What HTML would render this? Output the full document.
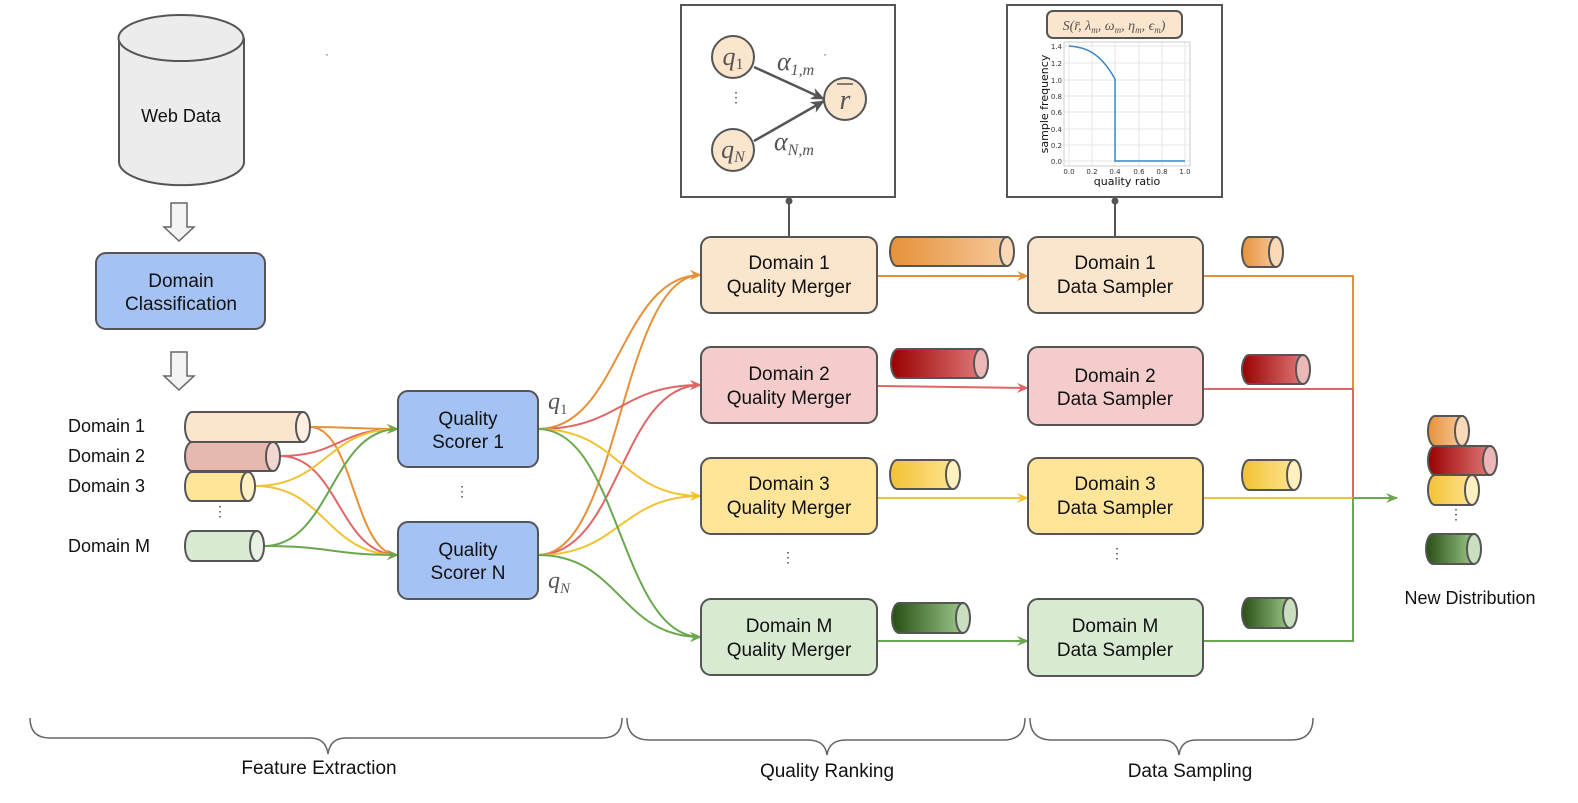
<!DOCTYPE html>
<html><head><meta charset="utf-8"><style>
html,body{margin:0;padding:0;background:#fff;}
svg{display:block;font-family:"Liberation Sans",Arial,sans-serif;}
.m{font-family:"Liberation Serif",serif;font-style:italic;fill:#555;}
</style></head><body>
<svg width="1578" height="803" viewBox="0 0 1578 803" xmlns="http://www.w3.org/2000/svg">
<defs>
<marker id="ao" markerWidth="12" markerHeight="10" refX="11" refY="5" orient="auto" markerUnits="userSpaceOnUse"><path d="M0,0 L12,5 L0,10 L4,5 Z" fill="#e69138"/></marker>
<marker id="ar" markerWidth="12" markerHeight="10" refX="11" refY="5" orient="auto" markerUnits="userSpaceOnUse"><path d="M0,0 L12,5 L0,10 L4,5 Z" fill="#e06666"/></marker>
<marker id="ay" markerWidth="12" markerHeight="10" refX="11" refY="5" orient="auto" markerUnits="userSpaceOnUse"><path d="M0,0 L12,5 L0,10 L4,5 Z" fill="#f1c232"/></marker>
<marker id="ag" markerWidth="12" markerHeight="10" refX="11" refY="5" orient="auto" markerUnits="userSpaceOnUse"><path d="M0,0 L12,5 L0,10 L4,5 Z" fill="#6aa84f"/></marker>
<marker id="ak" markerWidth="14" markerHeight="12" refX="13" refY="6" orient="auto" markerUnits="userSpaceOnUse"><path d="M0,0 L14,6 L0,12 L4,6 Z" fill="#555"/></marker>
<linearGradient id="go"><stop offset="0" stop-color="#e69138"/><stop offset="1" stop-color="#f6c799"/></linearGradient>
<linearGradient id="gr"><stop offset="0" stop-color="#990000"/><stop offset="1" stop-color="#e07777"/></linearGradient>
<linearGradient id="gy"><stop offset="0" stop-color="#f1c232"/><stop offset="1" stop-color="#ffe38f"/></linearGradient>
<linearGradient id="gg"><stop offset="0" stop-color="#274e13"/><stop offset="1" stop-color="#9cc889"/></linearGradient>
</defs>

<path d="M119,38 L119,162 A62,23 0 0 0 244,162 L244,38" fill="#ececec" stroke="#555" stroke-width="2"/>
<ellipse cx="181" cy="38" rx="62.5" ry="23" fill="#ececec" stroke="#555" stroke-width="2"/>
<text x="181" y="122" font-size="18" text-anchor="middle" fill="#111">Web Data</text>
<path d="M171,203 L187,203 L187,227 L194,227 L179,241 L164,227 L171,227 Z" fill="#f3f3f3" stroke="#666" stroke-width="1.5"/>
<rect x="96" y="253" width="169" height="76" rx="10" fill="#a4c2f4" stroke="#555" stroke-width="2"/>
<text x="181" y="287" font-size="19" text-anchor="middle" fill="#111">Domain</text>
<text x="181" y="310" font-size="19" text-anchor="middle" fill="#111">Classification</text>
<path d="M171,352 L187,352 L187,376 L194,376 L179,390 L164,376 L171,376 Z" fill="#f3f3f3" stroke="#666" stroke-width="1.5"/>

<g font-size="18" fill="#111">
<text x="68" y="432">Domain 1</text>
<text x="68" y="462">Domain 2</text>
<text x="68" y="492">Domain 3</text>
<text x="68" y="552">Domain M</text>
</g>
<text x="220" y="516" font-size="14" text-anchor="middle" fill="#444">⋮</text>

<g fill="none" stroke-width="2">
<path d="M310,427 C354,427 354,429 398,429" stroke="#e69138" marker-end="url(#ao)"/>
<path d="M310,427 C354,427 354,555 398,555" stroke="#e69138" marker-end="url(#ao)"/>
<path d="M280,456 C339,456 339,429 398,429" stroke="#e06666" marker-end="url(#ar)"/>
<path d="M280,456 C339,456 339,555 398,555" stroke="#e06666" marker-end="url(#ar)"/>
<path d="M255,486 C326,486 326,429 398,429" stroke="#f1c232" marker-end="url(#ay)"/>
<path d="M255,486 C326,486 326,555 398,555" stroke="#f1c232" marker-end="url(#ay)"/>
<path d="M264,546 C331,546 331,429 398,429" stroke="#6aa84f" marker-end="url(#ag)"/>
<path d="M264,546 C331,546 331,555 398,555" stroke="#6aa84f" marker-end="url(#ag)"/>
</g>

<g stroke="#555" stroke-width="2">
<path d="M192,412 L303,412 L303,442 L192,442 A7,15 0 0 1 192,412 Z" fill="#fce5cd"/><ellipse cx="303" cy="427" rx="7" ry="15" fill="#fdf0e3"/>
<path d="M192,442 L273,442 L273,471 L192,471 A7,14.5 0 0 1 192,442 Z" fill="#e6b8af"/><ellipse cx="273" cy="456.5" rx="7" ry="14.5" fill="#f1d6d2"/>
<path d="M192,472 L248,472 L248,501 L192,501 A7,14.5 0 0 1 192,472 Z" fill="#ffe599"/><ellipse cx="248" cy="486.5" rx="7" ry="14.5" fill="#fff0c4"/>
<path d="M192,531 L257,531 L257,561 L192,561 A7,15 0 0 1 192,531 Z" fill="#d9ead3"/><ellipse cx="257" cy="546" rx="7" ry="15" fill="#e8f2e4"/>
</g>

<g fill="none" stroke-width="2">
<path d="M538,429 C620,429 620,275 701,275" stroke="#e69138" marker-end="url(#ao)"/>
<path d="M538,555 C620,555 620,275 701,275" stroke="#e69138" marker-end="url(#ao)"/>
<path d="M538,429 C620,429 620,385 701,385" stroke="#e06666" marker-end="url(#ar)"/>
<path d="M538,555 C620,555 620,385 701,385" stroke="#e06666" marker-end="url(#ar)"/>
<path d="M538,429 C620,429 620,496 701,496" stroke="#f1c232" marker-end="url(#ay)"/>
<path d="M538,555 C620,555 620,496 701,496" stroke="#f1c232" marker-end="url(#ay)"/>
<path d="M538,429 C620,429 620,637 701,637" stroke="#6aa84f" marker-end="url(#ag)"/>
<path d="M538,555 C620,555 620,637 701,637" stroke="#6aa84f" marker-end="url(#ag)"/>
</g>

<rect x="398" y="391" width="140" height="76" rx="10" fill="#a4c2f4" stroke="#555" stroke-width="2"/>
<text x="468" y="425" font-size="19" text-anchor="middle" fill="#111">Quality</text>
<text x="468" y="448" font-size="19" text-anchor="middle" fill="#111">Scorer 1</text>
<rect x="398" y="522" width="140" height="77" rx="10" fill="#a4c2f4" stroke="#555" stroke-width="2"/>
<text x="468" y="556" font-size="19" text-anchor="middle" fill="#111">Quality</text>
<text x="468" y="579" font-size="19" text-anchor="middle" fill="#111">Scorer N</text>
<text x="462" y="496" font-size="14" text-anchor="middle" fill="#444">⋮</text>
<text x="548" y="409" font-size="24" class="m">q<tspan font-size="15" dy="5" font-style="normal">1</tspan></text>
<text x="548" y="588" font-size="24" class="m">q<tspan font-size="15" dy="5">N</tspan></text>

<rect x="681" y="5" width="214" height="192" fill="#fff" stroke="#555" stroke-width="2"/>
<line x1="754" y1="67" x2="824" y2="99" stroke="#555" stroke-width="2.5" marker-end="url(#ak)"/>
<line x1="754" y1="141" x2="824" y2="101" stroke="#555" stroke-width="2.5" marker-end="url(#ak)"/>
<g stroke="#555" stroke-width="2" fill="#fce5cd">
<circle cx="733" cy="57" r="21"/><circle cx="733" cy="150" r="21"/><circle cx="845" cy="99" r="21"/>
</g>
<text x="733" y="65" font-size="26" text-anchor="middle" class="m">q<tspan font-size="16" dy="4" font-style="normal">1</tspan></text>
<text x="733" y="158" font-size="26" text-anchor="middle" class="m">q<tspan font-size="16" dy="4">N</tspan></text>
<text x="845" y="109" font-size="28" text-anchor="middle" class="m">r</text>
<line x1="837" y1="84" x2="853" y2="84" stroke="#555" stroke-width="1.5"/>
<text x="777" y="70" font-size="26" class="m">α<tspan font-size="16" dy="5">1,m</tspan></text>
<text x="823" y="58" font-size="12" fill="#555">·</text>
<text x="774" y="150" font-size="26" class="m">α<tspan font-size="16" dy="5">N,m</tspan></text>
<text x="736" y="102" font-size="14" text-anchor="middle" fill="#444">⋮</text>
<line x1="789" y1="197" x2="789" y2="237" stroke="#555" stroke-width="2"/>
<circle cx="789" cy="201" r="3.5" fill="#555"/>

<rect x="1007" y="5" width="215" height="192" fill="#fff" stroke="#555" stroke-width="2"/>
<g stroke="#e6e6e6" stroke-width="1">
<line x1="1069" y1="42" x2="1069" y2="166"/><line x1="1092" y1="42" x2="1092" y2="166"/><line x1="1115" y1="42" x2="1115" y2="166"/><line x1="1139" y1="42" x2="1139" y2="166"/><line x1="1162" y1="42" x2="1162" y2="166"/><line x1="1185" y1="42" x2="1185" y2="166"/>
<line x1="1064" y1="46" x2="1190" y2="46"/><line x1="1064" y1="63" x2="1190" y2="63"/><line x1="1064" y1="80" x2="1190" y2="80"/><line x1="1064" y1="96" x2="1190" y2="96"/><line x1="1064" y1="112" x2="1190" y2="112"/><line x1="1064" y1="129" x2="1190" y2="129"/><line x1="1064" y1="145" x2="1190" y2="145"/><line x1="1064" y1="161" x2="1190" y2="161"/>
</g>
<rect x="1064" y="42" width="126" height="124" fill="none" stroke="#ccc" stroke-width="1"/>
<path d="M1069,46 C1085,47 1100,52 1115,79 L1115,161 L1185,161" fill="none" stroke="#3a85c2" stroke-width="1.5"/>
<g font-size="7" fill="#333" font-family="DejaVu Sans, sans-serif">
<text x="1062" y="49" text-anchor="end">1.4</text><text x="1062" y="66" text-anchor="end">1.2</text><text x="1062" y="83" text-anchor="end">1.0</text><text x="1062" y="99" text-anchor="end">0.8</text><text x="1062" y="115" text-anchor="end">0.6</text><text x="1062" y="132" text-anchor="end">0.4</text><text x="1062" y="148" text-anchor="end">0.2</text><text x="1062" y="164" text-anchor="end">0.0</text>
<text x="1069" y="174" text-anchor="middle">0.0</text><text x="1092" y="174" text-anchor="middle">0.2</text><text x="1115" y="174" text-anchor="middle">0.4</text><text x="1139" y="174" text-anchor="middle">0.6</text><text x="1162" y="174" text-anchor="middle">0.8</text><text x="1185" y="174" text-anchor="middle">1.0</text>
</g>
<text x="1127" y="185" font-size="11" text-anchor="middle" fill="#111" font-family="DejaVu Sans, sans-serif">quality ratio</text>
<text transform="translate(1048,104) rotate(-90)" font-size="11" text-anchor="middle" fill="#111" font-family="DejaVu Sans, sans-serif">sample frequency</text>
<rect x="1047" y="11" width="135" height="27" rx="6" fill="#fce5cd" stroke="#555" stroke-width="2"/>
<text x="1114" y="30" font-size="14" text-anchor="middle" class="m">S(r̄, λ<tspan font-size="9" dy="3">m</tspan><tspan dy="-3">, ω</tspan><tspan font-size="9" dy="3">m</tspan><tspan dy="-3">, η</tspan><tspan font-size="9" dy="3">m</tspan><tspan dy="-3">, ϵ</tspan><tspan font-size="9" dy="3">m</tspan><tspan dy="-3">)</tspan></text>
<line x1="1115" y1="197" x2="1115" y2="237" stroke="#555" stroke-width="2"/>
<circle cx="1115" cy="201" r="3.5" fill="#555"/>

<g stroke-width="2">
<line x1="877" y1="276" x2="1028" y2="276" stroke="#e69138" marker-end="url(#ao)"/>
<line x1="877" y1="386" x2="1028" y2="388" stroke="#e06666" marker-end="url(#ar)"/>
<line x1="877" y1="498" x2="1028" y2="498" stroke="#f1c232" marker-end="url(#ay)"/>
<line x1="877" y1="641" x2="1028" y2="641" stroke="#6aa84f" marker-end="url(#ag)"/>
</g>

<g fill="none" stroke-width="2">
<path d="M1203,276 L1353,276 L1353,389" stroke="#e69138"/>
<path d="M1203,389 L1353,389 L1353,498" stroke="#e06666"/>
<path d="M1203,498 L1353,498" stroke="#f1c232"/>
<path d="M1203,641 L1353,641 L1353,498" stroke="#6aa84f"/>
<line x1="1353" y1="498" x2="1397" y2="498" stroke="#6aa84f" marker-end="url(#ag)"/>
</g>

<g stroke="#555" stroke-width="2">
<rect x="701" y="237" width="176" height="76" rx="10" fill="#fce5cd"/>
<rect x="701" y="347" width="176" height="76" rx="10" fill="#f4cccc"/>
<rect x="701" y="458" width="176" height="76" rx="10" fill="#ffe599"/>
<rect x="701" y="599" width="176" height="76" rx="10" fill="#d9ead3"/>
<rect x="1028" y="237" width="175" height="76" rx="10" fill="#fce5cd"/>
<rect x="1028" y="347" width="175" height="78" rx="10" fill="#f4cccc"/>
<rect x="1028" y="458" width="175" height="76" rx="10" fill="#ffe599"/>
<rect x="1028" y="599" width="175" height="77" rx="10" fill="#d9ead3"/>
</g>
<g font-size="19" text-anchor="middle" fill="#111">
<text x="789" y="269">Domain 1</text><text x="789" y="293">Quality Merger</text>
<text x="789" y="380">Domain 2</text><text x="789" y="404">Quality Merger</text>
<text x="789" y="490">Domain 3</text><text x="789" y="514">Quality Merger</text>
<text x="789" y="632">Domain M</text><text x="789" y="656">Quality Merger</text>
<text x="1115" y="269">Domain 1</text><text x="1115" y="293">Data Sampler</text>
<text x="1115" y="382">Domain 2</text><text x="1115" y="405">Data Sampler</text>
<text x="1115" y="490">Domain 3</text><text x="1115" y="514">Data Sampler</text>
<text x="1115" y="632">Domain M</text><text x="1115" y="656">Data Sampler</text>
</g>
<text x="788" y="562" font-size="14" text-anchor="middle" fill="#444">⋮</text>
<text x="1117" y="558" font-size="14" text-anchor="middle" fill="#444">⋮</text>

<g stroke="#555" stroke-width="2">
<path d="M897,237 L1007,237 L1007,266 L897,266 A7,14.5 0 0 1 897,237 Z" fill="url(#go)"/><ellipse cx="1007" cy="251.5" rx="7" ry="14.5" fill="#fad9b9"/>
<path d="M898,349 L981,349 L981,378 L898,378 A7,14.5 0 0 1 898,349 Z" fill="url(#gr)"/><ellipse cx="981" cy="363.5" rx="7" ry="14.5" fill="#ebb7b7"/>
<path d="M897,460 L953,460 L953,489 L897,489 A7,14.5 0 0 1 897,460 Z" fill="url(#gy)"/><ellipse cx="953" cy="474.5" rx="7" ry="14.5" fill="#fff0bf"/>
<path d="M899,603 L963,603 L963,633 L899,633 A7,15 0 0 1 899,603 Z" fill="url(#gg)"/><ellipse cx="963" cy="618" rx="7" ry="15" fill="#c9dfc0"/>

<path d="M1249,237 L1276,237 L1276,267 L1249,267 A7,15 0 0 1 1249,237 Z" fill="url(#go)"/><ellipse cx="1276" cy="252" rx="7" ry="15" fill="#fad9b9"/>
<path d="M1249,355 L1303,355 L1303,384 L1249,384 A7,14.5 0 0 1 1249,355 Z" fill="url(#gr)"/><ellipse cx="1303" cy="369.5" rx="7" ry="14.5" fill="#ebb7b7"/>
<path d="M1249,460 L1294,460 L1294,490 L1249,490 A7,15 0 0 1 1249,460 Z" fill="url(#gy)"/><ellipse cx="1294" cy="475" rx="7" ry="15" fill="#fff0bf"/>
<path d="M1249,598 L1290,598 L1290,628 L1249,628 A7,15 0 0 1 1249,598 Z" fill="url(#gg)"/><ellipse cx="1290" cy="613" rx="7" ry="15" fill="#c9dfc0"/>

<path d="M1435,416 L1462,416 L1462,446 L1435,446 A7,15 0 0 1 1435,416 Z" fill="url(#go)"/><ellipse cx="1462" cy="431" rx="7" ry="15" fill="#fad9b9"/>
<path d="M1435,446 L1490,446 L1490,475 L1435,475 A7,14.5 0 0 1 1435,446 Z" fill="url(#gr)"/><ellipse cx="1490" cy="460.5" rx="7" ry="14.5" fill="#ebb7b7"/>
<path d="M1435,475 L1472,475 L1472,505 L1435,505 A7,15 0 0 1 1435,475 Z" fill="url(#gy)"/><ellipse cx="1472" cy="490" rx="7" ry="15" fill="#fff0bf"/>
<path d="M1433,534 L1474,534 L1474,564 L1433,564 A7,15 0 0 1 1433,534 Z" fill="url(#gg)"/><ellipse cx="1474" cy="549" rx="7" ry="15" fill="#c9dfc0"/>
</g>
<text x="1456" y="519" font-size="14" text-anchor="middle" fill="#444">⋮</text>
<text x="1470" y="604" font-size="18" text-anchor="middle" fill="#111">New Distribution</text>

<g fill="none" stroke="#666" stroke-width="1.5">
<path d="M30,718 Q30,738 50,738 L310,738 Q326,738 328,754 Q330,738 346,738 L602,738 Q622,738 622,718"/>
<path d="M627,718 Q627,740 650,740 L808,740 Q825,740 827,755 Q829,740 846,740 L1003,740 Q1025,740 1025,718"/>
<path d="M1030,718 Q1030,740 1052,740 L1162,740 Q1177,740 1179,755 Q1181,740 1196,740 L1291,740 Q1313,740 1313,718"/>
</g>
<g font-size="19" text-anchor="middle" fill="#111">
<text x="319" y="774">Feature Extraction</text>
<text x="827" y="777">Quality Ranking</text>
<text x="1190" y="777">Data Sampling</text>
</g>
<text x="325" y="58" font-size="12" fill="#555">·</text>
</svg>
</body></html>
